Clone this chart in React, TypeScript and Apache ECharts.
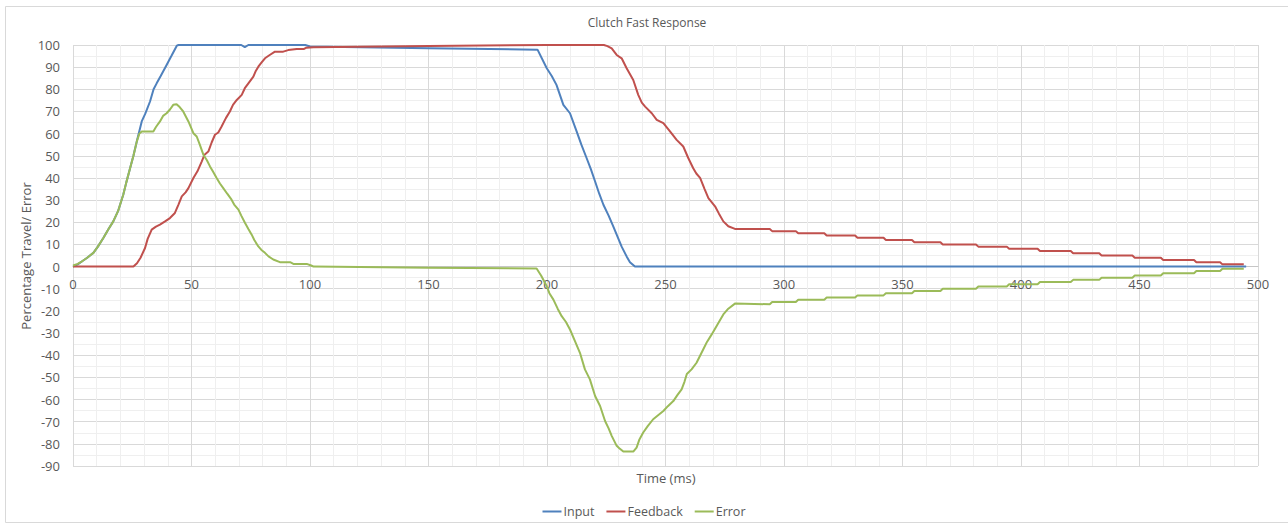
import React, { useEffect, useRef } from "react";
import * as echarts from "echarts";

const TITLE = "Clutch Fast Response";
const X_NAME = "Time (ms)";
const Y_NAME = "Percentage Travel/ Error";
const SERIES_NAMES = ["Input", "Feedback", "Error"];
const COLORS = ["#4F81BD", "#C0504D", "#9BBB59"];

const inputData: number[][] = [
  [0, 0], [2, 1], [4, 2.5], [6, 4], [8.6, 6.2], [10.5, 9], [12.8, 12.9], [15, 17], [17, 20.4],
  [19, 25], [21.2, 32.4], [22.5, 38], [24, 44], [25.5, 50], [26.9, 56.4], [29, 65.5], [30.5, 69],
  [32.5, 74.5], [34, 80], [35.3, 82.7], [37, 86], [39.5, 91], [41.5, 95], [43.8, 99.7], [44.5, 100],
  [71, 100], [72.5, 99], [74, 100], [98, 100], [100, 99.3], [150, 98.5], [196, 97.9],
  [199.9, 89.5], [202, 86], [204, 82], [206.9, 73], [209.7, 69.2], [212.5, 61], [214.5, 55],
  [216.7, 49], [218.5, 44], [220.3, 38.4], [222, 33], [223.8, 27.9], [226, 23], [228, 18],
  [229.4, 14.4], [231.5, 9], [233.6, 4.6], [235, 2], [237.1, 0], [495, 0],
];

const feedbackData: number[][] = [
  [0, 0], [25.5, 0], [27, 1.5], [28.5, 4], [30.4, 8.4], [31.5, 12.5], [33.2, 16.7], [35, 18],
  [36.7, 18.9], [39, 20.5], [40.9, 21.9], [43, 24.2], [44.5, 28], [45.9, 31.7], [47.5, 33.5],
  [48.7, 35.4], [50.8, 40], [52.5, 43], [54.3, 47.4], [55.5, 50.5], [57.1, 51.9], [58.5, 56],
  [59.9, 59.5], [61.3, 60.5], [62.7, 63.2], [64.5, 67], [66.2, 70], [67.5, 73], [69.1, 75.2],
  [71.2, 77.5], [72.5, 80.5], [74, 82.7], [76.1, 85.7], [77, 88], [78.2, 90.2], [79.5, 92],
  [81, 94], [83, 95.5], [85.2, 97], [88.7, 97], [90.8, 97.7], [94.4, 98.2], [97.5, 98.2],
  [98.5, 98.8], [101.5, 99], [150, 99.6], [200, 100], [224, 100], [225.5, 99.5], [227.3, 98.5],
  [229.4, 95.5], [231.5, 94], [233.6, 89.5], [236.4, 84.2], [238.5, 77.5], [240, 74],
  [241.4, 72.2], [244.2, 69.2], [246.3, 66.2], [249.1, 64.7], [251.9, 61], [254.7, 57.2],
  [257.5, 54.2], [259.6, 49], [261.7, 44.4], [263, 42], [264.6, 40], [266.5, 35], [268.1, 30.9],
  [270.9, 27.2], [272.5, 24], [274.4, 20.4], [276.5, 18.2], [279.3, 17], [294, 17], [295, 16],
  [305, 16], [306, 15], [317, 15], [318, 14], [330, 14], [331, 13], [342, 13], [343, 12],
  [354, 12], [355, 11], [366, 11], [367, 10], [381, 10], [382, 9], [394, 9], [395, 8], [407, 8],
  [408, 7], [421, 7], [422, 6], [433, 6], [434, 5], [447, 5], [448, 4], [459, 4], [460, 3],
  [473, 3], [474, 2], [484, 2], [485, 1], [494, 1],
];

const errorData: number[][] = [
  [0, 0.5], [2, 1.2], [4, 2.5], [6, 4], [8.6, 6.2], [10.5, 9], [12.8, 12.9], [15, 17], [17, 20.4],
  [19, 25], [21.2, 32.4], [22.5, 38], [24, 44], [25.5, 50], [26.9, 56.4], [28, 60], [29, 61],
  [33.9, 61], [35, 63], [36.7, 65.5], [38, 68], [39.5, 69.2], [41, 71], [42.3, 73], [43.7, 73.3],
  [45, 72], [46.5, 70], [48.7, 65.5], [50.8, 60.2], [52.2, 58.7], [53.5, 55], [55, 50.5],
  [56.5, 48], [57.8, 45.2], [59, 43], [60.6, 40], [62, 37.5], [63.4, 35.4], [65, 33],
  [66.9, 30.2], [68, 28], [69.8, 25.7], [71, 23], [72.6, 19.7], [74, 17], [75.4, 14.4],
  [76.5, 12], [78.2, 9.1], [79.5, 7.5], [81, 6.2], [82.5, 4.6], [84.5, 3.2], [87.3, 2],
  [91.6, 2], [93, 1.2], [98.6, 1.2], [100.5, 0.5], [101.5, 0], [150, -0.5], [195.6, -0.9],
  [197.5, -4], [199.9, -8.9], [201, -12], [202.7, -14.9], [204.5, -19], [206.2, -22.4],
  [208, -25], [209.7, -28.4], [211.8, -33.6], [213.9, -38.9], [216, -46.4], [218.1, -50.9],
  [220.3, -58.4], [222.4, -62.9], [224.5, -69.7], [226, -73], [227.3, -76.4], [229.4, -80.9],
  [230.5, -82], [232.2, -83.5], [236.4, -83.5], [237.8, -81.7], [239, -78], [240.6, -74.9],
  [242.5, -72], [244.8, -68.9], [247, -67], [249.1, -65.2], [251, -63], [253.3, -60.7],
  [255, -58], [256.8, -55.4], [258, -52], [259, -48.5], [261, -46.4], [263.1, -43.4],
  [265.9, -37.4], [267.5, -34], [269.5, -30.6], [272, -26], [274.4, -21.6], [276.5, -19],
  [279.3, -16.7], [294, -17], [295, -16], [305, -16], [306, -15], [317, -15], [318, -14],
  [330, -14], [331, -13], [342, -13], [343, -12], [354, -12], [355, -11], [366, -11], [367, -10],
  [381, -10], [382, -9], [394, -9], [395, -8], [407, -8], [408, -7], [421, -7], [422, -6],
  [433, -6], [434, -5], [447, -5], [448, -4], [459, -4], [460, -3], [473, -3], [474, -2],
  [484, -2], [485, -1], [494, -1],
];

const X_MIN = 0;
const X_MAX = 500;
const X_INTERVAL = 50;
const Y_MIN = -90;
const Y_MAX = 100;
const Y_INTERVAL = 10;

const FONT = "'Open Sans', 'Noto Sans', sans-serif";
const TEXT_COLOR = "#595959";

const GRID_TOP = 45;
const GRID_BOTTOM = 59;
const CHART_H = 525;

export default function App() {
  const ref = useRef<HTMLDivElement>(null);

  useEffect(() => {
    if (!ref.current) return;
    const chart = echarts.init(ref.current, null, { renderer: "svg" });
    const allData = [inputData, feedbackData, errorData];
    // move the x axis (line + labels) up to the y = 0 level, as Excel does
    const gridH = CHART_H - GRID_TOP - GRID_BOTTOM;
    const zeroOffset = -(gridH * (0 - Y_MIN)) / (Y_MAX - Y_MIN);
    chart.setOption({
      animation: false,
      backgroundColor: "#ffffff",
      textStyle: { fontFamily: FONT },
      title: {
        text: TITLE,
        left: 642,
        top: 11,
        textAlign: "center",
        textStyle: { fontFamily: FONT, fontSize: 12, fontWeight: "normal", color: TEXT_COLOR },
      },
      legend: {
        data: SERIES_NAMES,
        left: "center",
        top: 500,
        icon: "rect",
        itemWidth: 19,
        itemHeight: 2,
        itemGap: 12,
        textStyle: { fontFamily: FONT, fontSize: 12.5, color: TEXT_COLOR, padding: [0, 0, 0, -3] },
      },
      grid: { left: 73, right: 30, top: GRID_TOP, bottom: GRID_BOTTOM, containLabel: false },
      xAxis: {
        type: "value",
        min: X_MIN,
        max: X_MAX,
        interval: X_INTERVAL,
        position: "bottom",
        offset: zeroOffset,
        axisLine: { show: true, onZero: false, lineStyle: { color: "#c6c6c6", width: 1 } },
        axisTick: { show: false },
        axisLabel: { color: TEXT_COLOR, fontSize: 13, fontFamily: FONT, margin: 11 },
        splitLine: { show: true, lineStyle: { color: "#d9d9d9", width: 1 } },
        minorTick: { show: false, splitNumber: 5 },
        minorSplitLine: { show: true, lineStyle: { color: "#efefef", width: 1 } },
      },
      yAxis: {
        type: "value",
        min: Y_MIN,
        max: Y_MAX,
        interval: Y_INTERVAL,
        axisLine: { show: false },
        axisTick: { show: false },
        axisLabel: { color: TEXT_COLOR, fontSize: 13, fontFamily: FONT, margin: 13 },
        splitLine: { show: true, lineStyle: { color: "#d9d9d9", width: 1 } },
        minorTick: { show: false, splitNumber: 2 },
        minorSplitLine: { show: true, lineStyle: { color: "#efefef", width: 1 } },
      },
      graphic: [
        {
          type: "rect",
          shape: { x: 5.5, y: 6.5, width: 1290, height: 516 },
          style: { fill: "none", stroke: "#d9d9d9", lineWidth: 1 },
          silent: true,
          z: -1,
        },
        {
          type: "text",
          x: 666,
          y: 478,
          style: {
            text: X_NAME,
            fill: TEXT_COLOR,
            font: `13px ${FONT}`,
            textAlign: "center",
            textVerticalAlign: "middle",
          },
        },
        {
          type: "text",
          x: 26,
          y: 256,
          rotation: Math.PI / 2,
          style: {
            text: Y_NAME,
            fill: TEXT_COLOR,
            font: `13px ${FONT}`,
            textAlign: "center",
            textVerticalAlign: "middle",
          },
        },
      ],
      series: SERIES_NAMES.map((name, i) => ({
        name,
        type: "line",
        data: allData[i],
        showSymbol: false,
        symbol: "none",
        color: COLORS[i],
        lineStyle: { color: COLORS[i], width: 2 },
        emphasis: { disabled: true },
      })),
    });
    return () => chart.dispose();
  }, []);

  return (
    <div
      ref={ref}
      style={{ position: "fixed", left: 0, top: 0, width: 1288, height: 525, background: "#fff" }}
    />
  );
}
